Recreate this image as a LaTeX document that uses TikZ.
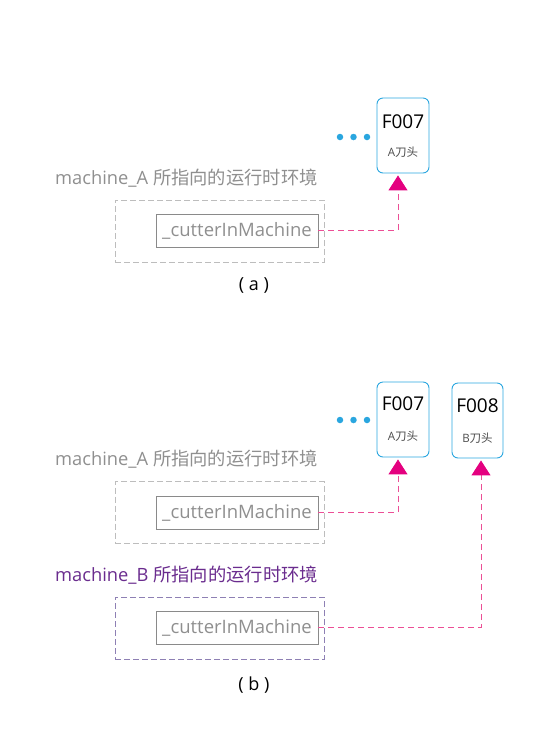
\documentclass[tikz,border=0pt]{standalone}
\usepackage{fontspec}
\setmainfont{Open Sans}
\newfontfamily\cjk{Noto Sans CJK SC}
\usetikzlibrary{arrows.meta,calc}
\definecolor{cyanC}{HTML}{2AA6DF}
\definecolor{magC}{HTML}{E4007F}
\definecolor{pinkC}{HTML}{EC4F96}
\definecolor{grayT}{HTML}{8F8F8F}
\definecolor{grayB}{HTML}{BDBDBD}
\definecolor{grayI}{HTML}{8A8A8A}
\definecolor{purT}{HTML}{6A2C8E}
\definecolor{purB}{HTML}{8E80B4}
\tikzset{
  headbox/.style={draw=cyanC, line width=0.9pt, rounded corners=6pt, minimum width=52pt, minimum height=75pt, inner sep=0pt},
  headid/.style={font=\fontsize{19}{19}\selectfont, text=black, inner sep=0pt},
  headsub/.style={font=\fontsize{11.5}{12}\selectfont, text=black!70, inner sep=0pt},
  envtitle/.style={font=\fontsize{18.3}{19}\selectfont, anchor=west, inner sep=0pt},
  envbox/.style={draw, dash pattern=on 6pt off 3pt, line width=1pt, minimum width=209pt, minimum height=62pt, inner sep=0pt},
  fieldbox/.style={draw=grayI, line width=0.8pt, minimum width=162pt, minimum height=33pt, inner sep=0pt, text=grayT, font=\fontsize{18.5}{19}\selectfont},
  ref/.style={draw=pinkC, line width=1pt, dash pattern=on 6pt off 4pt, -{Triangle[length=15pt,width=19pt,fill=magC,color=magC]}, shorten >=2pt},
  dot/.style={circle, fill=cyanC, minimum size=6.5pt, inner sep=0pt},
  caption/.style={font=\fontsize{18}{19}\selectfont, text=black}
}
\begin{document}
\begin{tikzpicture}[x=1pt,y=-1pt]
\useasboundingbox (0,0) rectangle (534,732);
% ---------- (a) ----------
\node[headbox] (a7) at (403,135.5) {};
\node[headid] (a7id) at (403,122) {F007};
\node[headsub] (a7sub) at (403,152) {A{\cjk 刀头}};
\node[dot] (ad1) at (340,137) {};
\node[dot] (ad2) at (353.5,137) {};
\node[dot] (ad3) at (367,137) {};
\node[envtitle, text=grayT] (atitle) at (55,178) {machine\_A {\cjk 所指向的运行时环境}};
\node[envbox, draw=grayB] (aenv) at (219.5,231) {};
\node[fieldbox] (afield) at (237,230.5) {\_cutterInMachine};
\draw[ref] (afield.east) -| ([xshift=-5pt]a7.south);
\node[caption] (acap) at (254,285) {( a )};
% ---------- (b) ----------
\node[headbox] (b7) at (403,419.5) {};
\node[headid] (b7id) at (403,404) {F007};
\node[headsub] (b7sub) at (403,436) {A{\cjk 刀头}};
\node[headbox, minimum width=51pt] (b8) at (477.5,420.5) {};
\node[headid] (b8id) at (477.5,406) {F008};
\node[headsub] (b8sub) at (477.5,438) {B{\cjk 刀头}};
\node[dot] (bd1) at (340,420) {};
\node[dot] (bd2) at (353.5,420) {};
\node[dot] (bd3) at (367,420) {};
\node[envtitle, text=grayT] (btitleA) at (55,459) {machine\_A {\cjk 所指向的运行时环境}};
\node[envbox, draw=grayB] (benvA) at (219.5,512.5) {};
\node[fieldbox] (bfieldA) at (237,512.5) {\_cutterInMachine};
\node[envtitle, text=purT] (btitleB) at (55,575) {machine\_B {\cjk 所指向的运行时环境}};
\node[envbox, draw=purB] (benvB) at (219.5,628) {};
\node[fieldbox] (bfieldB) at (237,627.5) {\_cutterInMachine};
\draw[ref] (bfieldA.east) -| ([xshift=-5pt]b7.south);
\draw[ref] (bfieldB.east) -| ([xshift=3.5pt]b8.south);
\node[caption] (bcap) at (254,685) {( b )};
\end{tikzpicture}
\end{document}
